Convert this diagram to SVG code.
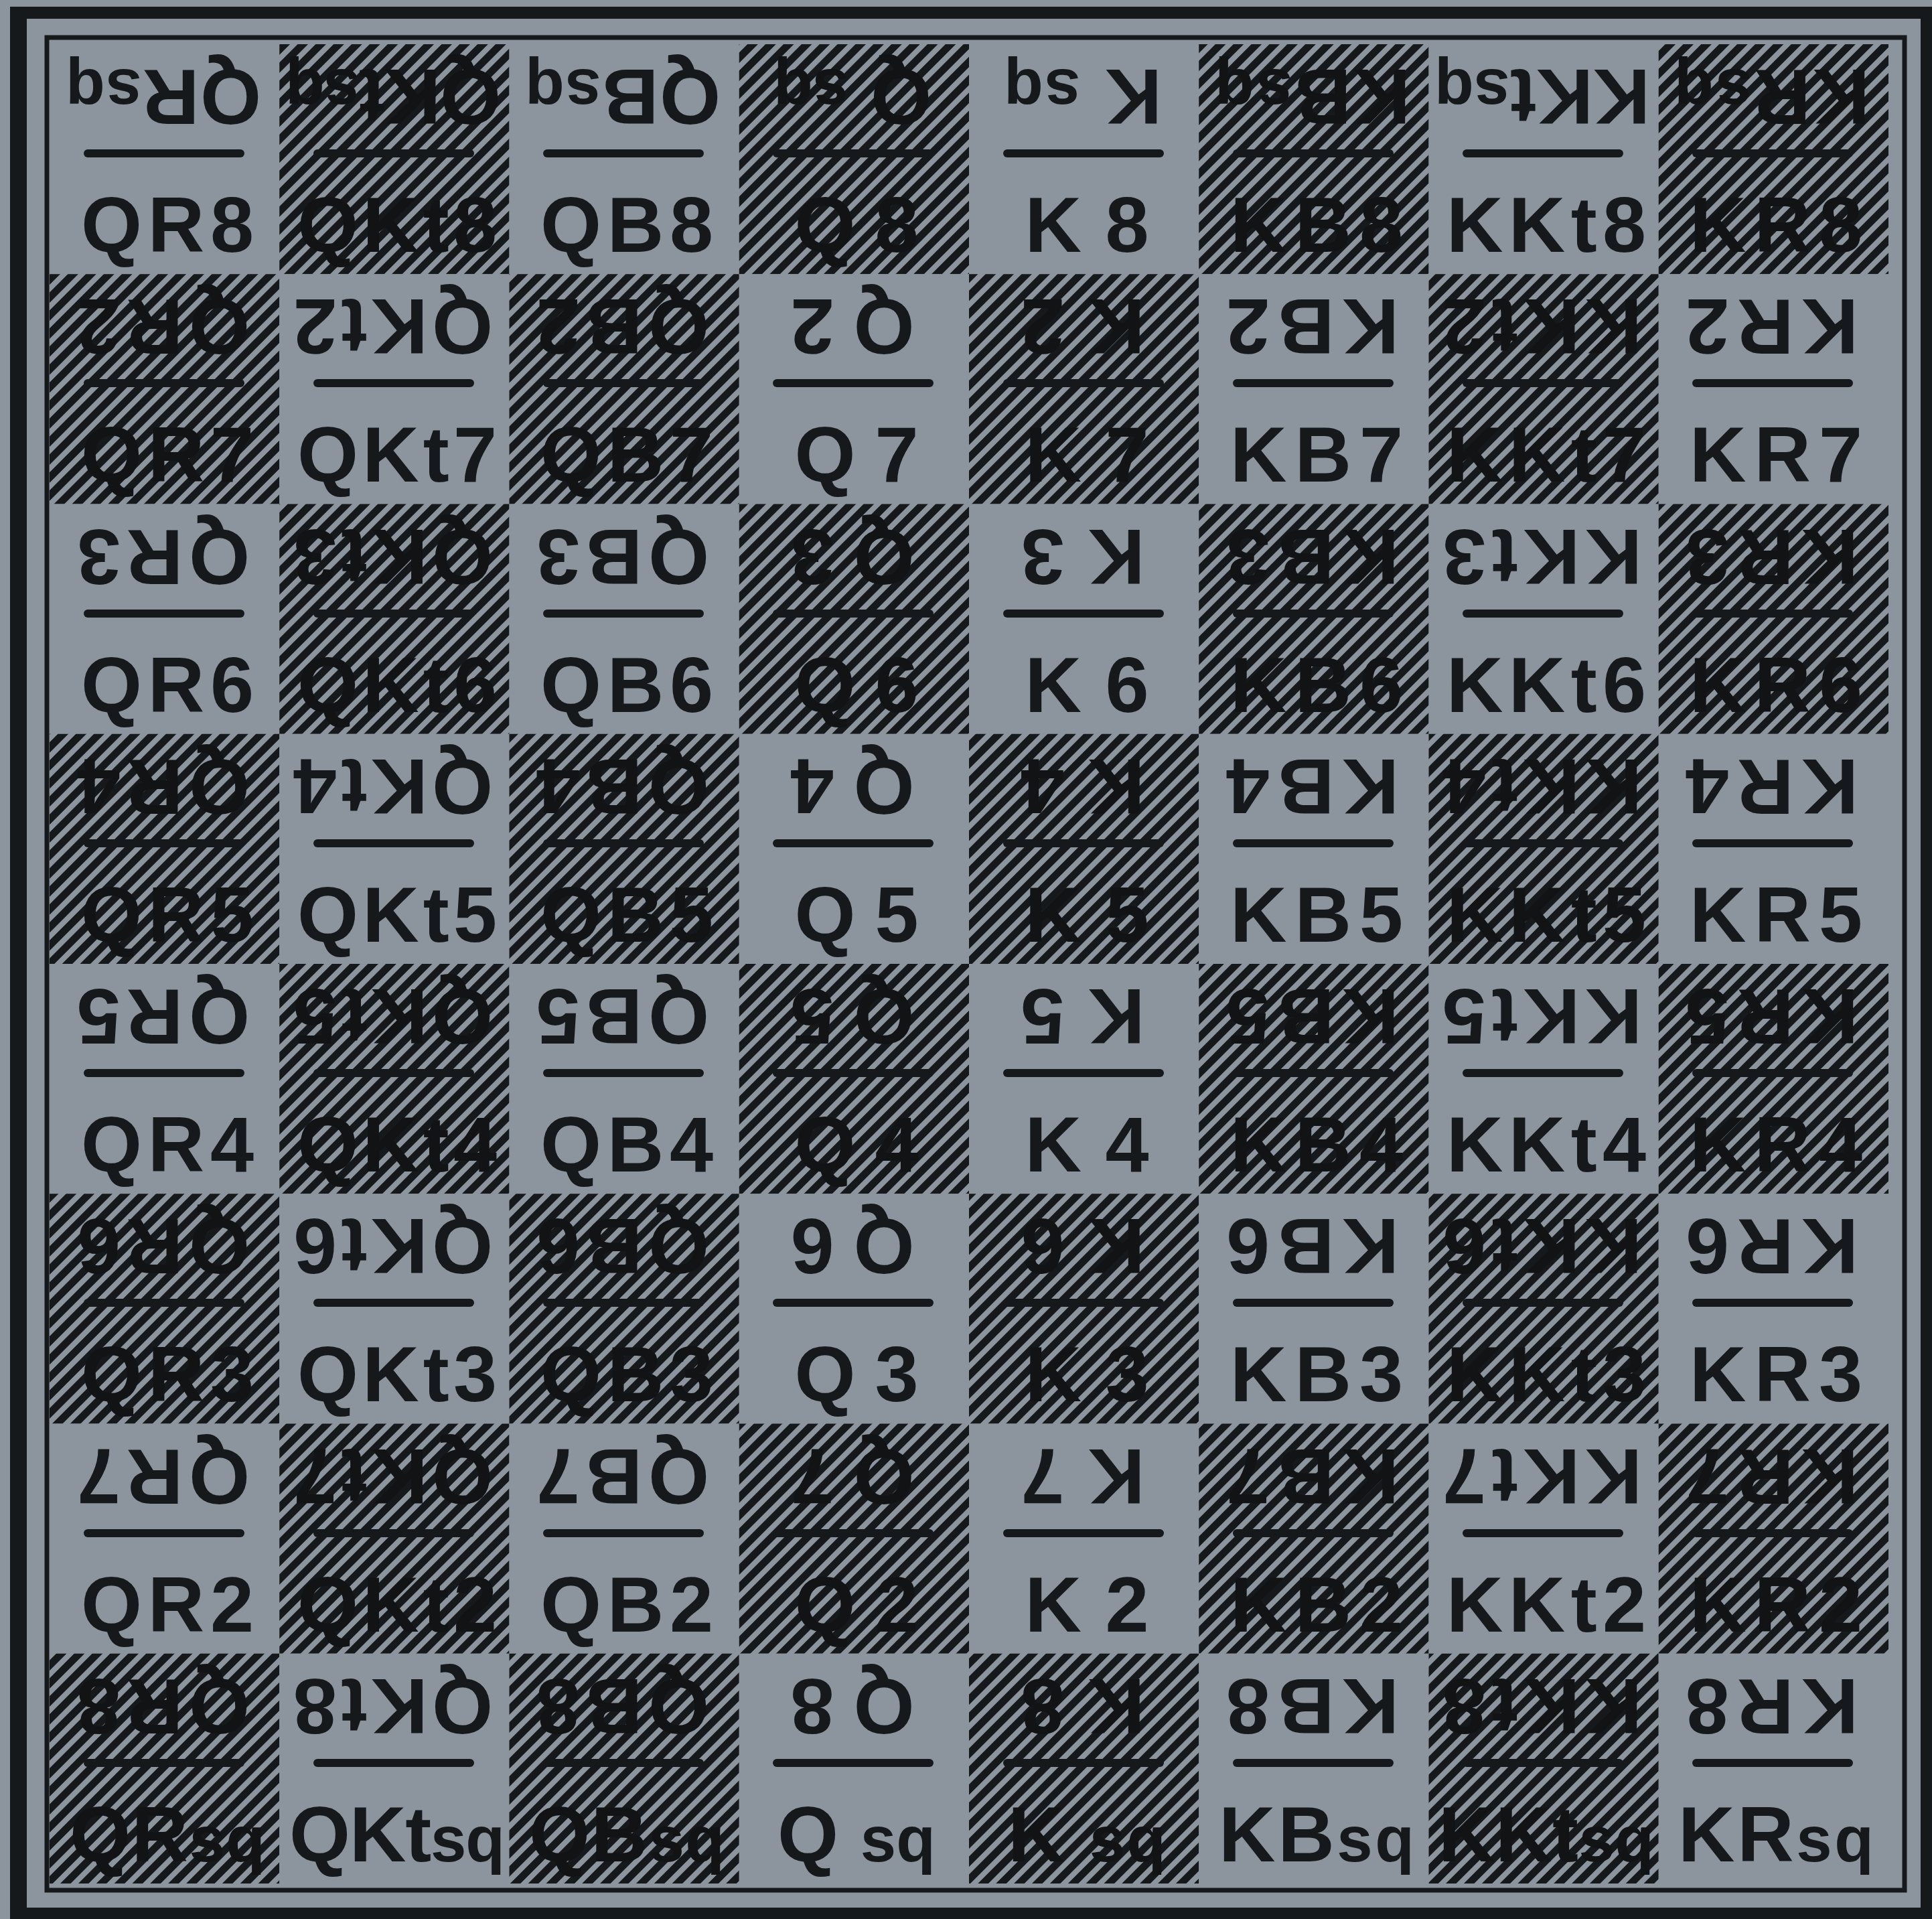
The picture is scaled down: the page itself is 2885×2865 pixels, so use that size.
<svg xmlns="http://www.w3.org/2000/svg" width="2885" height="2865" viewBox="0 0 2885 2865">
<defs>
<pattern id="hatch" patternUnits="userSpaceOnUse" width="19" height="19" patternTransform="rotate(-45)"><rect width="19" height="19" fill="#8c959e"/><rect width="19" height="11" fill="#16191c"/></pattern>
</defs>
<style>
.d{fill:url(#hatch)}
.l{fill:#8c959e}
.t{font-family:"Liberation Sans",Arial,sans-serif;font-weight:bold;font-size:117px;text-anchor:middle}
.tl{fill:#16191c}
.td{fill:#111315}
.s{font-size:96px}
.ln{stroke:#16191c;stroke-width:12;stroke-linecap:round}
</style>
<g id="frame">
<rect x="0" y="0" width="2885" height="2865" fill="#8c959e"/>
<rect x="15" y="10" width="2870" height="2855" fill="#16191c"/>
<rect x="40" y="28" width="2828" height="2820" fill="#8c959e"/>
<rect x="70" y="56" width="2774" height="2766" fill="none" stroke="#16191c" stroke-width="7"/>
</g>
<g id="board">
<!-- row 0 -->
<g id="sq-QR8"><rect class="l" x="74" y="66" width="343.25" height="343.25"/><text class="t tl" x="244" y="184" textLength="292" transform="rotate(180 244 144)">QR<tspan class="s">sq</tspan></text><line class="ln" x1="131" y1="229" x2="359" y2="229"/><text class="t tl" x="250" y="376" textLength="258">QR8</text></g>
<g id="sq-QKt8"><rect class="d" x="417.25" y="66" width="343.25" height="343.25"/><text class="t td" x="587" y="184" textLength="322" transform="rotate(180 587 144)">QKt<tspan class="s">sq</tspan></text><line class="ln" x1="474" y1="229" x2="702" y2="229"/><text class="t td" x="593" y="376" textLength="298">QKt8</text></g>
<g id="sq-QB8"><rect class="l" x="760.5" y="66" width="343.25" height="343.25"/><text class="t tl" x="930" y="184" textLength="292" transform="rotate(180 930 144)">QB<tspan class="s">sq</tspan></text><line class="ln" x1="817" y1="229" x2="1045" y2="229"/><text class="t tl" x="936" y="376" textLength="258">QB8</text></g>
<g id="sq-Q8"><rect class="d" x="1103.75" y="66" width="343.25" height="343.25"/><text class="t td" x="1273" y="184" textLength="236" transform="rotate(180 1273 144)">Q <tspan class="s">sq</tspan></text><line class="ln" x1="1160" y1="229" x2="1388" y2="229"/><text class="t td" x="1279" y="376" textLength="185">Q 8</text></g>
<g id="sq-K8"><rect class="l" x="1447" y="66" width="343.25" height="343.25"/><text class="t tl" x="1617" y="184" textLength="236" transform="rotate(180 1617 144)">K <tspan class="s">sq</tspan></text><line class="ln" x1="1504" y1="229" x2="1732" y2="229"/><text class="t tl" x="1623" y="376" textLength="185">K 8</text></g>
<g id="sq-KB8"><rect class="d" x="1790.25" y="66" width="343.25" height="343.25"/><text class="t td" x="1960" y="184" textLength="292" transform="rotate(180 1960 144)">KB<tspan class="s">sq</tspan></text><line class="ln" x1="1847" y1="229" x2="2075" y2="229"/><text class="t td" x="1966" y="376" textLength="258">KB8</text></g>
<g id="sq-KKt8"><rect class="l" x="2133.5" y="66" width="343.25" height="343.25"/><text class="t tl" x="2303" y="184" textLength="322" transform="rotate(180 2303 144)">KKt<tspan class="s">sq</tspan></text><line class="ln" x1="2190" y1="229" x2="2418" y2="229"/><text class="t tl" x="2309" y="376" textLength="298">KKt8</text></g>
<g id="sq-KR8"><rect class="d" x="2476.75" y="66" width="343.25" height="343.25"/><text class="t td" x="2646" y="184" textLength="292" transform="rotate(180 2646 144)">KR<tspan class="s">sq</tspan></text><line class="ln" x1="2533" y1="229" x2="2761" y2="229"/><text class="t td" x="2652" y="376" textLength="258">KR8</text></g>
<!-- row 1 -->
<g id="sq-QR7"><rect class="d" x="74" y="409.25" width="343.25" height="343.25"/><text class="t td" x="244" y="527" textLength="258" transform="rotate(180 244 487)">QR2</text><line class="ln" x1="131" y1="572" x2="359" y2="572"/><text class="t td" x="250" y="719" textLength="258">QR7</text></g>
<g id="sq-QKt7"><rect class="l" x="417.25" y="409.25" width="343.25" height="343.25"/><text class="t tl" x="587" y="527" textLength="298" transform="rotate(180 587 487)">QKt2</text><line class="ln" x1="474" y1="572" x2="702" y2="572"/><text class="t tl" x="593" y="719" textLength="298">QKt7</text></g>
<g id="sq-QB7"><rect class="d" x="760.5" y="409.25" width="343.25" height="343.25"/><text class="t td" x="930" y="527" textLength="258" transform="rotate(180 930 487)">QB2</text><line class="ln" x1="817" y1="572" x2="1045" y2="572"/><text class="t td" x="936" y="719" textLength="258">QB7</text></g>
<g id="sq-Q7"><rect class="l" x="1103.75" y="409.25" width="343.25" height="343.25"/><text class="t tl" x="1273" y="527" textLength="185" transform="rotate(180 1273 487)">Q 2</text><line class="ln" x1="1160" y1="572" x2="1388" y2="572"/><text class="t tl" x="1279" y="719" textLength="185">Q 7</text></g>
<g id="sq-K7"><rect class="d" x="1447" y="409.25" width="343.25" height="343.25"/><text class="t td" x="1617" y="527" textLength="185" transform="rotate(180 1617 487)">K 2</text><line class="ln" x1="1504" y1="572" x2="1732" y2="572"/><text class="t td" x="1623" y="719" textLength="185">K 7</text></g>
<g id="sq-KB7"><rect class="l" x="1790.25" y="409.25" width="343.25" height="343.25"/><text class="t tl" x="1960" y="527" textLength="258" transform="rotate(180 1960 487)">KB2</text><line class="ln" x1="1847" y1="572" x2="2075" y2="572"/><text class="t tl" x="1966" y="719" textLength="258">KB7</text></g>
<g id="sq-KKt7"><rect class="d" x="2133.5" y="409.25" width="343.25" height="343.25"/><text class="t td" x="2303" y="527" textLength="298" transform="rotate(180 2303 487)">KKt2</text><line class="ln" x1="2190" y1="572" x2="2418" y2="572"/><text class="t td" x="2309" y="719" textLength="298">KKt7</text></g>
<g id="sq-KR7"><rect class="l" x="2476.75" y="409.25" width="343.25" height="343.25"/><text class="t tl" x="2646" y="527" textLength="258" transform="rotate(180 2646 487)">KR2</text><line class="ln" x1="2533" y1="572" x2="2761" y2="572"/><text class="t tl" x="2652" y="719" textLength="258">KR7</text></g>
<!-- row 2 -->
<g id="sq-QR6"><rect class="l" x="74" y="752.5" width="343.25" height="343.25"/><text class="t tl" x="244" y="871" textLength="258" transform="rotate(180 244 831)">QR3</text><line class="ln" x1="131" y1="916" x2="359" y2="916"/><text class="t tl" x="250" y="1063" textLength="258">QR6</text></g>
<g id="sq-QKt6"><rect class="d" x="417.25" y="752.5" width="343.25" height="343.25"/><text class="t td" x="587" y="871" textLength="298" transform="rotate(180 587 831)">QKt3</text><line class="ln" x1="474" y1="916" x2="702" y2="916"/><text class="t td" x="593" y="1063" textLength="298">QKt6</text></g>
<g id="sq-QB6"><rect class="l" x="760.5" y="752.5" width="343.25" height="343.25"/><text class="t tl" x="930" y="871" textLength="258" transform="rotate(180 930 831)">QB3</text><line class="ln" x1="817" y1="916" x2="1045" y2="916"/><text class="t tl" x="936" y="1063" textLength="258">QB6</text></g>
<g id="sq-Q6"><rect class="d" x="1103.75" y="752.5" width="343.25" height="343.25"/><text class="t td" x="1273" y="871" textLength="185" transform="rotate(180 1273 831)">Q 3</text><line class="ln" x1="1160" y1="916" x2="1388" y2="916"/><text class="t td" x="1279" y="1063" textLength="185">Q 6</text></g>
<g id="sq-K6"><rect class="l" x="1447" y="752.5" width="343.25" height="343.25"/><text class="t tl" x="1617" y="871" textLength="185" transform="rotate(180 1617 831)">K 3</text><line class="ln" x1="1504" y1="916" x2="1732" y2="916"/><text class="t tl" x="1623" y="1063" textLength="185">K 6</text></g>
<g id="sq-KB6"><rect class="d" x="1790.25" y="752.5" width="343.25" height="343.25"/><text class="t td" x="1960" y="871" textLength="258" transform="rotate(180 1960 831)">KB3</text><line class="ln" x1="1847" y1="916" x2="2075" y2="916"/><text class="t td" x="1966" y="1063" textLength="258">KB6</text></g>
<g id="sq-KKt6"><rect class="l" x="2133.5" y="752.5" width="343.25" height="343.25"/><text class="t tl" x="2303" y="871" textLength="298" transform="rotate(180 2303 831)">KKt3</text><line class="ln" x1="2190" y1="916" x2="2418" y2="916"/><text class="t tl" x="2309" y="1063" textLength="298">KKt6</text></g>
<g id="sq-KR6"><rect class="d" x="2476.75" y="752.5" width="343.25" height="343.25"/><text class="t td" x="2646" y="871" textLength="258" transform="rotate(180 2646 831)">KR3</text><line class="ln" x1="2533" y1="916" x2="2761" y2="916"/><text class="t td" x="2652" y="1063" textLength="258">KR6</text></g>
<!-- row 3 -->
<g id="sq-QR5"><rect class="d" x="74" y="1095.75" width="343.25" height="343.25"/><text class="t td" x="244" y="1214" textLength="258" transform="rotate(180 244 1174)">QR4</text><line class="ln" x1="131" y1="1259" x2="359" y2="1259"/><text class="t td" x="250" y="1406" textLength="258">QR5</text></g>
<g id="sq-QKt5"><rect class="l" x="417.25" y="1095.75" width="343.25" height="343.25"/><text class="t tl" x="587" y="1214" textLength="298" transform="rotate(180 587 1174)">QKt4</text><line class="ln" x1="474" y1="1259" x2="702" y2="1259"/><text class="t tl" x="593" y="1406" textLength="298">QKt5</text></g>
<g id="sq-QB5"><rect class="d" x="760.5" y="1095.75" width="343.25" height="343.25"/><text class="t td" x="930" y="1214" textLength="258" transform="rotate(180 930 1174)">QB4</text><line class="ln" x1="817" y1="1259" x2="1045" y2="1259"/><text class="t td" x="936" y="1406" textLength="258">QB5</text></g>
<g id="sq-Q5"><rect class="l" x="1103.75" y="1095.75" width="343.25" height="343.25"/><text class="t tl" x="1273" y="1214" textLength="185" transform="rotate(180 1273 1174)">Q 4</text><line class="ln" x1="1160" y1="1259" x2="1388" y2="1259"/><text class="t tl" x="1279" y="1406" textLength="185">Q 5</text></g>
<g id="sq-K5"><rect class="d" x="1447" y="1095.75" width="343.25" height="343.25"/><text class="t td" x="1617" y="1214" textLength="185" transform="rotate(180 1617 1174)">K 4</text><line class="ln" x1="1504" y1="1259" x2="1732" y2="1259"/><text class="t td" x="1623" y="1406" textLength="185">K 5</text></g>
<g id="sq-KB5"><rect class="l" x="1790.25" y="1095.75" width="343.25" height="343.25"/><text class="t tl" x="1960" y="1214" textLength="258" transform="rotate(180 1960 1174)">KB4</text><line class="ln" x1="1847" y1="1259" x2="2075" y2="1259"/><text class="t tl" x="1966" y="1406" textLength="258">KB5</text></g>
<g id="sq-KKt5"><rect class="d" x="2133.5" y="1095.75" width="343.25" height="343.25"/><text class="t td" x="2303" y="1214" textLength="298" transform="rotate(180 2303 1174)">KKt4</text><line class="ln" x1="2190" y1="1259" x2="2418" y2="1259"/><text class="t td" x="2309" y="1406" textLength="298">KKt5</text></g>
<g id="sq-KR5"><rect class="l" x="2476.75" y="1095.75" width="343.25" height="343.25"/><text class="t tl" x="2646" y="1214" textLength="258" transform="rotate(180 2646 1174)">KR4</text><line class="ln" x1="2533" y1="1259" x2="2761" y2="1259"/><text class="t tl" x="2652" y="1406" textLength="258">KR5</text></g>
<!-- row 4 -->
<g id="sq-QR4"><rect class="l" x="74" y="1439" width="343.25" height="343.25"/><text class="t tl" x="244" y="1557" textLength="258" transform="rotate(180 244 1517)">QR5</text><line class="ln" x1="131" y1="1602" x2="359" y2="1602"/><text class="t tl" x="250" y="1749" textLength="258">QR4</text></g>
<g id="sq-QKt4"><rect class="d" x="417.25" y="1439" width="343.25" height="343.25"/><text class="t td" x="587" y="1557" textLength="298" transform="rotate(180 587 1517)">QKt5</text><line class="ln" x1="474" y1="1602" x2="702" y2="1602"/><text class="t td" x="593" y="1749" textLength="298">QKt4</text></g>
<g id="sq-QB4"><rect class="l" x="760.5" y="1439" width="343.25" height="343.25"/><text class="t tl" x="930" y="1557" textLength="258" transform="rotate(180 930 1517)">QB5</text><line class="ln" x1="817" y1="1602" x2="1045" y2="1602"/><text class="t tl" x="936" y="1749" textLength="258">QB4</text></g>
<g id="sq-Q4"><rect class="d" x="1103.75" y="1439" width="343.25" height="343.25"/><text class="t td" x="1273" y="1557" textLength="185" transform="rotate(180 1273 1517)">Q 5</text><line class="ln" x1="1160" y1="1602" x2="1388" y2="1602"/><text class="t td" x="1279" y="1749" textLength="185">Q 4</text></g>
<g id="sq-K4"><rect class="l" x="1447" y="1439" width="343.25" height="343.25"/><text class="t tl" x="1617" y="1557" textLength="185" transform="rotate(180 1617 1517)">K 5</text><line class="ln" x1="1504" y1="1602" x2="1732" y2="1602"/><text class="t tl" x="1623" y="1749" textLength="185">K 4</text></g>
<g id="sq-KB4"><rect class="d" x="1790.25" y="1439" width="343.25" height="343.25"/><text class="t td" x="1960" y="1557" textLength="258" transform="rotate(180 1960 1517)">KB5</text><line class="ln" x1="1847" y1="1602" x2="2075" y2="1602"/><text class="t td" x="1966" y="1749" textLength="258">KB4</text></g>
<g id="sq-KKt4"><rect class="l" x="2133.5" y="1439" width="343.25" height="343.25"/><text class="t tl" x="2303" y="1557" textLength="298" transform="rotate(180 2303 1517)">KKt5</text><line class="ln" x1="2190" y1="1602" x2="2418" y2="1602"/><text class="t tl" x="2309" y="1749" textLength="298">KKt4</text></g>
<g id="sq-KR4"><rect class="d" x="2476.75" y="1439" width="343.25" height="343.25"/><text class="t td" x="2646" y="1557" textLength="258" transform="rotate(180 2646 1517)">KR5</text><line class="ln" x1="2533" y1="1602" x2="2761" y2="1602"/><text class="t td" x="2652" y="1749" textLength="258">KR4</text></g>
<!-- row 5 -->
<g id="sq-QR3"><rect class="d" x="74" y="1782.25" width="343.25" height="343.25"/><text class="t td" x="244" y="1900" textLength="258" transform="rotate(180 244 1860)">QR6</text><line class="ln" x1="131" y1="1945" x2="359" y2="1945"/><text class="t td" x="250" y="2092" textLength="258">QR3</text></g>
<g id="sq-QKt3"><rect class="l" x="417.25" y="1782.25" width="343.25" height="343.25"/><text class="t tl" x="587" y="1900" textLength="298" transform="rotate(180 587 1860)">QKt6</text><line class="ln" x1="474" y1="1945" x2="702" y2="1945"/><text class="t tl" x="593" y="2092" textLength="298">QKt3</text></g>
<g id="sq-QB3"><rect class="d" x="760.5" y="1782.25" width="343.25" height="343.25"/><text class="t td" x="930" y="1900" textLength="258" transform="rotate(180 930 1860)">QB6</text><line class="ln" x1="817" y1="1945" x2="1045" y2="1945"/><text class="t td" x="936" y="2092" textLength="258">QB3</text></g>
<g id="sq-Q3"><rect class="l" x="1103.75" y="1782.25" width="343.25" height="343.25"/><text class="t tl" x="1273" y="1900" textLength="185" transform="rotate(180 1273 1860)">Q 6</text><line class="ln" x1="1160" y1="1945" x2="1388" y2="1945"/><text class="t tl" x="1279" y="2092" textLength="185">Q 3</text></g>
<g id="sq-K3"><rect class="d" x="1447" y="1782.25" width="343.25" height="343.25"/><text class="t td" x="1617" y="1900" textLength="185" transform="rotate(180 1617 1860)">K 6</text><line class="ln" x1="1504" y1="1945" x2="1732" y2="1945"/><text class="t td" x="1623" y="2092" textLength="185">K 3</text></g>
<g id="sq-KB3"><rect class="l" x="1790.25" y="1782.25" width="343.25" height="343.25"/><text class="t tl" x="1960" y="1900" textLength="258" transform="rotate(180 1960 1860)">KB6</text><line class="ln" x1="1847" y1="1945" x2="2075" y2="1945"/><text class="t tl" x="1966" y="2092" textLength="258">KB3</text></g>
<g id="sq-KKt3"><rect class="d" x="2133.5" y="1782.25" width="343.25" height="343.25"/><text class="t td" x="2303" y="1900" textLength="298" transform="rotate(180 2303 1860)">KKt6</text><line class="ln" x1="2190" y1="1945" x2="2418" y2="1945"/><text class="t td" x="2309" y="2092" textLength="298">KKt3</text></g>
<g id="sq-KR3"><rect class="l" x="2476.75" y="1782.25" width="343.25" height="343.25"/><text class="t tl" x="2646" y="1900" textLength="258" transform="rotate(180 2646 1860)">KR6</text><line class="ln" x1="2533" y1="1945" x2="2761" y2="1945"/><text class="t tl" x="2652" y="2092" textLength="258">KR3</text></g>
<!-- row 6 -->
<g id="sq-QR2"><rect class="l" x="74" y="2125.5" width="343.25" height="343.25"/><text class="t tl" x="244" y="2244" textLength="258" transform="rotate(180 244 2204)">QR7</text><line class="ln" x1="131" y1="2289" x2="359" y2="2289"/><text class="t tl" x="250" y="2436" textLength="258">QR2</text></g>
<g id="sq-QKt2"><rect class="d" x="417.25" y="2125.5" width="343.25" height="343.25"/><text class="t td" x="587" y="2244" textLength="298" transform="rotate(180 587 2204)">QKt7</text><line class="ln" x1="474" y1="2289" x2="702" y2="2289"/><text class="t td" x="593" y="2436" textLength="298">QKt2</text></g>
<g id="sq-QB2"><rect class="l" x="760.5" y="2125.5" width="343.25" height="343.25"/><text class="t tl" x="930" y="2244" textLength="258" transform="rotate(180 930 2204)">QB7</text><line class="ln" x1="817" y1="2289" x2="1045" y2="2289"/><text class="t tl" x="936" y="2436" textLength="258">QB2</text></g>
<g id="sq-Q2"><rect class="d" x="1103.75" y="2125.5" width="343.25" height="343.25"/><text class="t td" x="1273" y="2244" textLength="185" transform="rotate(180 1273 2204)">Q 7</text><line class="ln" x1="1160" y1="2289" x2="1388" y2="2289"/><text class="t td" x="1279" y="2436" textLength="185">Q 2</text></g>
<g id="sq-K2"><rect class="l" x="1447" y="2125.5" width="343.25" height="343.25"/><text class="t tl" x="1617" y="2244" textLength="185" transform="rotate(180 1617 2204)">K 7</text><line class="ln" x1="1504" y1="2289" x2="1732" y2="2289"/><text class="t tl" x="1623" y="2436" textLength="185">K 2</text></g>
<g id="sq-KB2"><rect class="d" x="1790.25" y="2125.5" width="343.25" height="343.25"/><text class="t td" x="1960" y="2244" textLength="258" transform="rotate(180 1960 2204)">KB7</text><line class="ln" x1="1847" y1="2289" x2="2075" y2="2289"/><text class="t td" x="1966" y="2436" textLength="258">KB2</text></g>
<g id="sq-KKt2"><rect class="l" x="2133.5" y="2125.5" width="343.25" height="343.25"/><text class="t tl" x="2303" y="2244" textLength="298" transform="rotate(180 2303 2204)">KKt7</text><line class="ln" x1="2190" y1="2289" x2="2418" y2="2289"/><text class="t tl" x="2309" y="2436" textLength="298">KKt2</text></g>
<g id="sq-KR2"><rect class="d" x="2476.75" y="2125.5" width="343.25" height="343.25"/><text class="t td" x="2646" y="2244" textLength="258" transform="rotate(180 2646 2204)">KR7</text><line class="ln" x1="2533" y1="2289" x2="2761" y2="2289"/><text class="t td" x="2652" y="2436" textLength="258">KR2</text></g>
<!-- row 7 -->
<g id="sq-QR1"><rect class="d" x="74" y="2468.75" width="343.25" height="343.25"/><text class="t td" x="244" y="2587" textLength="258" transform="rotate(180 244 2547)">QR8</text><line class="ln" x1="131" y1="2632" x2="359" y2="2632"/><text class="t td" x="250" y="2779" textLength="292">QR<tspan class="s">sq</tspan></text></g>
<g id="sq-QKt1"><rect class="l" x="417.25" y="2468.75" width="343.25" height="343.25"/><text class="t tl" x="587" y="2587" textLength="298" transform="rotate(180 587 2547)">QKt8</text><line class="ln" x1="474" y1="2632" x2="702" y2="2632"/><text class="t tl" x="593" y="2779" textLength="322">QKt<tspan class="s">sq</tspan></text></g>
<g id="sq-QB1"><rect class="d" x="760.5" y="2468.75" width="343.25" height="343.25"/><text class="t td" x="930" y="2587" textLength="258" transform="rotate(180 930 2547)">QB8</text><line class="ln" x1="817" y1="2632" x2="1045" y2="2632"/><text class="t td" x="936" y="2779" textLength="292">QB<tspan class="s">sq</tspan></text></g>
<g id="sq-Q1"><rect class="l" x="1103.75" y="2468.75" width="343.25" height="343.25"/><text class="t tl" x="1273" y="2587" textLength="185" transform="rotate(180 1273 2547)">Q 8</text><line class="ln" x1="1160" y1="2632" x2="1388" y2="2632"/><text class="t tl" x="1279" y="2779" textLength="236">Q <tspan class="s">sq</tspan></text></g>
<g id="sq-K1"><rect class="d" x="1447" y="2468.75" width="343.25" height="343.25"/><text class="t td" x="1617" y="2587" textLength="185" transform="rotate(180 1617 2547)">K 8</text><line class="ln" x1="1504" y1="2632" x2="1732" y2="2632"/><text class="t td" x="1623" y="2779" textLength="236">K <tspan class="s">sq</tspan></text></g>
<g id="sq-KB1"><rect class="l" x="1790.25" y="2468.75" width="343.25" height="343.25"/><text class="t tl" x="1960" y="2587" textLength="258" transform="rotate(180 1960 2547)">KB8</text><line class="ln" x1="1847" y1="2632" x2="2075" y2="2632"/><text class="t tl" x="1966" y="2779" textLength="292">KB<tspan class="s">sq</tspan></text></g>
<g id="sq-KKt1"><rect class="d" x="2133.5" y="2468.75" width="343.25" height="343.25"/><text class="t td" x="2303" y="2587" textLength="298" transform="rotate(180 2303 2547)">KKt8</text><line class="ln" x1="2190" y1="2632" x2="2418" y2="2632"/><text class="t td" x="2309" y="2779" textLength="322">KKt<tspan class="s">sq</tspan></text></g>
<g id="sq-KR1"><rect class="l" x="2476.75" y="2468.75" width="343.25" height="343.25"/><text class="t tl" x="2646" y="2587" textLength="258" transform="rotate(180 2646 2547)">KR8</text><line class="ln" x1="2533" y1="2632" x2="2761" y2="2632"/><text class="t tl" x="2652" y="2779" textLength="292">KR<tspan class="s">sq</tspan></text></g>
</g>
<g id="connectors"/>
</svg>
